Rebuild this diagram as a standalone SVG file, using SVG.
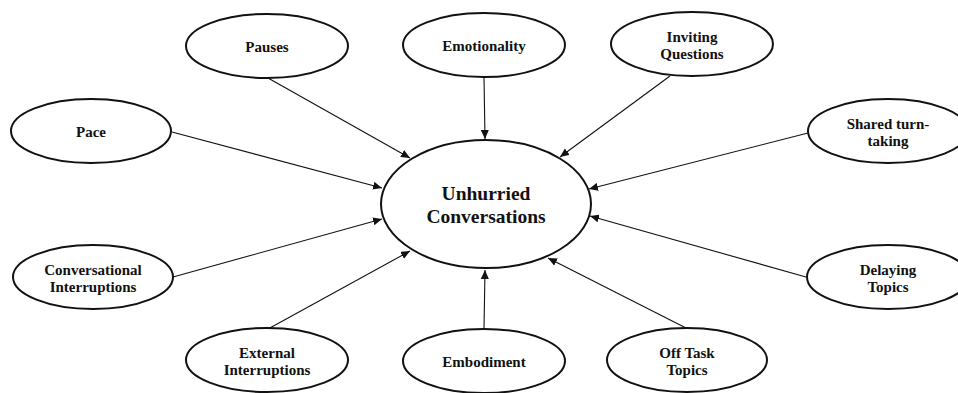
<svg xmlns="http://www.w3.org/2000/svg" width="958" height="393" viewBox="0 0 958 393">
<style>
.node ellipse{fill:#fff;stroke:#111;stroke-width:2}
.node text{font-family:"Liberation Serif","Times New Roman",serif;font-weight:bold;font-size:15px;fill:#111;text-anchor:middle}
#center text{font-size:19.5px}
#edges line{stroke:#111;stroke-width:1.1;marker-end:url(#arr)}
</style>
<defs>
<marker id="arr" markerUnits="userSpaceOnUse" markerWidth="10" markerHeight="8" refX="9" refY="4" orient="auto">
<path d="M0,0 L9,4 L0,8 z" fill="#111"/>
</marker>
</defs>
<rect width="958" height="393" fill="#fff"/>
<g id="edges">
<line x1="268" y1="78" x2="410" y2="158"/>
<line x1="484" y1="77" x2="485" y2="139"/>
<line x1="670" y1="76" x2="560" y2="157"/>
<line x1="172" y1="132" x2="382" y2="188"/>
<line x1="808" y1="133" x2="589" y2="189"/>
<line x1="173" y1="277" x2="382" y2="219"/>
<line x1="806" y1="277" x2="590" y2="216"/>
<line x1="268" y1="329" x2="410" y2="251"/>
<line x1="484" y1="329" x2="485" y2="270"/>
<line x1="686" y1="328" x2="548" y2="258"/>
</g>
<g id="center" class="node"><ellipse cx="486" cy="204" rx="105" ry="64"/><text x="486" y="200">Unhurried</text><text x="486" y="223">Conversations</text></g>
<g id="pauses" class="node"><ellipse cx="267" cy="46" rx="81" ry="32"/><text x="267" y="51.5">Pauses</text></g>
<g id="emotionality" class="node"><ellipse cx="484" cy="45" rx="81" ry="32"/><text x="484" y="50.5">Emotionality</text></g>
<g id="inviting" class="node"><ellipse cx="692" cy="44" rx="81" ry="32"/><text x="692" y="42">Inviting</text><text x="692" y="59">Questions</text></g>
<g id="pace" class="node"><ellipse cx="91" cy="131" rx="80" ry="32"/><text x="91" y="136.5">Pace</text></g>
<g id="shared" class="node"><ellipse cx="888" cy="131" rx="80" ry="32"/><text x="888" y="129">Shared turn-</text><text x="888" y="146">taking</text></g>
<g id="conversational" class="node"><ellipse cx="93" cy="277" rx="80" ry="32"/><text x="93" y="275">Conversational</text><text x="93" y="292">Interruptions</text></g>
<g id="delaying" class="node"><ellipse cx="888" cy="277" rx="81" ry="32"/><text x="888" y="275">Delaying</text><text x="888" y="292">Topics</text></g>
<g id="external" class="node"><ellipse cx="267" cy="360" rx="81" ry="32"/><text x="267" y="358">External</text><text x="267" y="375">Interruptions</text></g>
<g id="embodiment" class="node"><ellipse cx="484" cy="361" rx="81" ry="32"/><text x="484" y="366.5">Embodiment</text></g>
<g id="offtask" class="node"><ellipse cx="687" cy="360" rx="80" ry="32"/><text x="687" y="358">Off Task</text><text x="687" y="375">Topics</text></g>
</svg>
